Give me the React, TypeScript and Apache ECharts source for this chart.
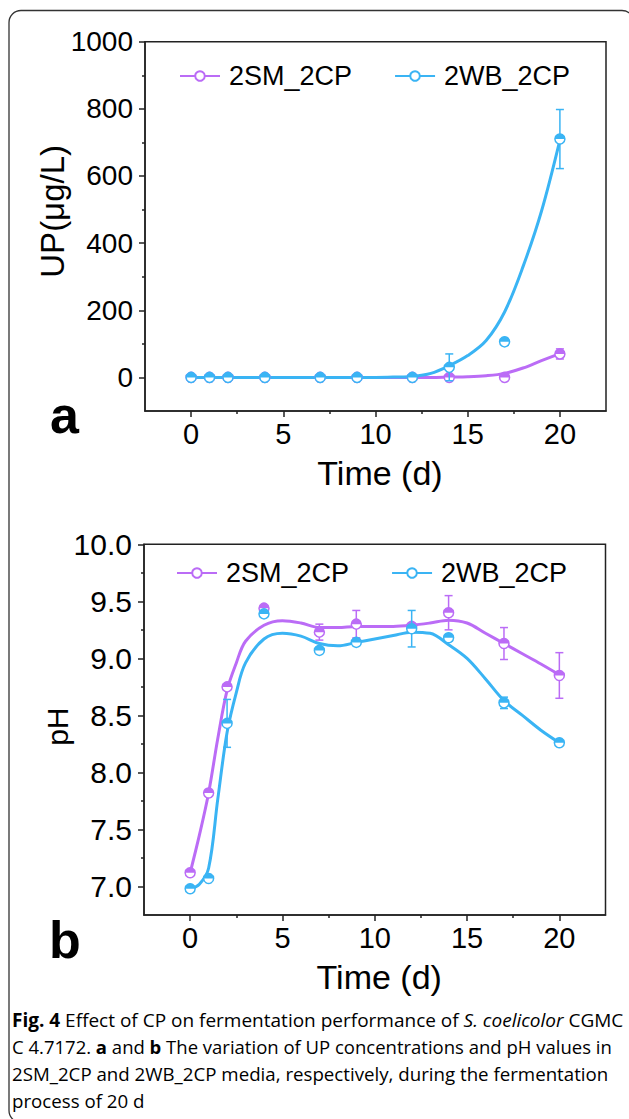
import React, { useEffect, useRef } from "react";
import * as echarts from "echarts";

// ---------- data ----------
const seriesNames = ["2SM_2CP", "2WB_2CP"];
const timeDays = [0, 1, 2, 4, 7, 9, 12, 14, 17, 20];

const upSM = [0, 0, 0, 0, 0, 0, 0, 0, 0, 70];
const upSMErr = [2, 2, 2, 2, 2, 2, 2, 3, 3, 15];
const upWB = [0, 0, 0, 0, 0, 0, 0, 30, 106, 710];
const upWBErr = [2, 2, 2, 2, 2, 2, 2, 40, 8, 88];

const phSM = [7.12, 7.82, 8.75, 9.44, 9.23, 9.3, 9.28, 9.4, 9.13, 8.85];
const phSMErr = [0.02, 0.03, 0.02, 0.02, 0.07, 0.12, 0.03, 0.15, 0.14, 0.2];
const phWB = [6.98, 7.07, 8.43, 9.39, 9.07, 9.14, 9.26, 9.18, 8.61, 8.26];
const phWBErr = [0.02, 0.02, 0.21, 0.03, 0.03, 0.03, 0.16, 0.03, 0.05, 0.02];

// fitted (spline) curves
const upFitT = [0, 2, 4, 6, 8, 10, 11, 12, 13, 14, 15, 16, 17, 18, 19, 20];
const upSMFit = [0, 0, 0, 0, 0, 0, 0, 0, 0, 1, 2, 5, 12, 28, 50, 71];
const upWBFit = [0, 0, 0, 0, 0, 0, 1, 3, 12, 35, 65, 110, 195, 330, 495, 707];

const phFitT = [0, 0.5, 1, 1.5, 2, 2.5, 3, 4, 5, 6, 7, 8, 9, 10, 11, 12, 13, 14, 15, 16, 17, 18, 19, 20];
const phSMFit = [7.12, 7.45, 7.82, 8.3, 8.72, 8.96, 9.15, 9.29, 9.33, 9.31, 9.27, 9.27, 9.28, 9.28, 9.28, 9.29, 9.31, 9.335, 9.31, 9.22, 9.13, 9.04, 8.95, 8.855];
const phWBFit = [6.98, 7.02, 7.16, 7.77, 8.35, 8.7, 8.96, 9.17, 9.22, 9.195, 9.13, 9.11, 9.14, 9.17, 9.2, 9.23, 9.22, 9.12, 9.0, 8.82, 8.63, 8.5, 8.37, 8.26];

// axis ticks
const xMajor = [0, 5, 10, 15, 20];
const xMinor = [2.5, 7.5, 12.5, 17.5];
const upMajor = [0, 200, 400, 600, 800, 1000];
const upMinor = [100, 300, 500, 700, 900];
const phMajor = [7.0, 7.5, 8.0, 8.5, 9.0, 9.5, 10.0];
const phMinor = [7.25, 7.75, 8.25, 8.75, 9.25, 9.75];

const captionLines = [
  [["b", "Fig. 4"], ["n", " Effect of CP on fermentation performance of "], ["i", "S. coelicolor"], ["n", " CGMC"]],
  [["n", "C 4.7172. "], ["b", "a"], ["n", " and "], ["b", "b"], ["n", " The variation of UP concentrations and pH values in"]],
  [["n", "2SM_2CP and 2WB_2CP media, respectively, during the fermentation"]],
  [["n", "process of 20 d"]],
];

const PURPLE = "#BB6CF6";
const BLUE = "#3AB4F4";
const FONT = "Liberation Sans, Arial, sans-serif";

const zip3 = (t: number[], v: number[], e: number[]) => t.map((x, i) => [x, v[i], e[i]]);
const zip2 = (t: number[], v: number[]) => t.map((x, i) => [x, v[i]]);

const makeRender = (color: string) => (params: any, api: any) => {
  const x = api.value(0);
  const y = api.value(1);
  const e = api.value(2);
  const p = api.coord([x, y]);
  const hi = api.coord([x, y + e]);
  const lo = api.coord([x, y - e]);
  const r = 5;
  const cap = 4;
  const bar = { stroke: color, lineWidth: 1.5 };
  return {
    type: "group",
    children: [
      { type: "line", shape: { x1: p[0], y1: hi[1], x2: p[0], y2: lo[1] }, style: bar },
      { type: "line", shape: { x1: p[0] - cap, y1: hi[1], x2: p[0] + cap, y2: hi[1] }, style: bar },
      { type: "line", shape: { x1: p[0] - cap, y1: lo[1], x2: p[0] + cap, y2: lo[1] }, style: bar },
      { type: "circle", shape: { cx: p[0], cy: p[1], r }, style: { fill: "#fff", stroke: color, lineWidth: 1.5 } },
      {
        type: "sector",
        shape: { cx: p[0], cy: p[1], r0: 0, r, startAngle: Math.PI, endAngle: 2 * Math.PI, clockwise: true },
        style: { fill: color },
      },
    ],
  };
};

function xAxes(gridIndex: number, nameGap: number) {
  return [
    {
      type: "value",
      gridIndex,
      min: -2.5,
      max: 22.5,
      position: "bottom",
      name: "Time (d)",
      nameLocation: "middle",
      nameGap,
      nameMoveOverlap: false,
      nameTextStyle: { fontSize: 34, color: "#000", fontFamily: FONT, padding: [0, 0, 0, 9] },
      axisLine: { show: true, onZero: false, lineStyle: { color: "#222", width: 1.5 } },
      axisTick: { show: true, customValues: xMajor, length: 6, lineStyle: { color: "#222", width: 1.5 } },
      axisLabel: { show: true, customValues: xMajor, margin: 8, fontSize: 29, color: "#000", fontFamily: FONT },
      splitLine: { show: false },
    },
    {
      type: "value",
      gridIndex,
      min: -2.5,
      max: 22.5,
      position: "bottom",
      axisLine: { show: false, onZero: false },
      axisTick: { show: true, customValues: xMinor, length: 3, lineStyle: { color: "#222", width: 1.5 } },
      axisLabel: { show: false },
      splitLine: { show: false },
    },
  ];
}

function yAxes(
  gridIndex: number,
  min: number,
  max: number,
  major: number[],
  minor: number[],
  name: string,
  nameSize: number,
  nameGap: number,
  namePad: number[],
  labelSize: number,
  fmt: (v: number) => string
) {
  return [
    {
      type: "value",
      gridIndex,
      min,
      max,
      position: "left",
      name,
      nameLocation: "middle",
      nameGap,
      nameMoveOverlap: false,
      nameTextStyle: { fontSize: nameSize, color: "#000", fontFamily: FONT, padding: namePad },
      axisLine: { show: true, onZero: false, lineStyle: { color: "#222", width: 1.5 } },
      axisTick: { show: true, customValues: major, length: 6, lineStyle: { color: "#222", width: 1.5 } },
      axisLabel: { show: true, customValues: major, margin: 12, fontSize: labelSize, color: "#000", fontFamily: FONT, formatter: fmt },
      splitLine: { show: false },
    },
    {
      type: "value",
      gridIndex,
      min,
      max,
      position: "left",
      axisLine: { show: false, onZero: false },
      axisTick: { show: true, customValues: minor, length: 3, lineStyle: { color: "#222", width: 1.5 } },
      axisLabel: { show: false },
      splitLine: { show: false },
    },
  ];
}

function curve(name: string, color: string, data: number[][], xi: number, yi: number) {
  return {
    type: "line",
    name,
    xAxisIndex: xi,
    yAxisIndex: yi,
    data,
    smooth: 0.35,
    showSymbol: false,
    symbol: "circle",
    symbolSize: 10,
    itemStyle: { color: "#fff", borderColor: color, borderWidth: 1.5 },
    lineStyle: { color, width: 3 },
    z: 2,
  };
}

function points(name: string, color: string, data: number[][], xi: number, yi: number) {
  return {
    type: "custom",
    name: name + "_pts",
    xAxisIndex: xi,
    yAxisIndex: yi,
    data,
    encode: { x: 0, y: 1 },
    renderItem: makeRender(color),
    z: 3,
  };
}

function legend(left: number, top: number) {
  return {
    left,
    top,
    orient: "horizontal",
    padding: 0,
    itemWidth: 40,
    itemHeight: 12,
    itemGap: 42,
    data: seriesNames,
    textStyle: { fontSize: 27, color: "#000", fontFamily: FONT, lineHeight: 30, padding: [0, 0, 0, 4] },
  };
}

function captionGraphic() {
  const sizes = [19, 18.5, 18.7, 18.7];
  const ys = [1023, 1050, 1077, 1104];
  return captionLines.map((parts, k) => {
    const base = { fontFamily: "Open Sans, sans-serif", fontSize: sizes[k], color: "#333" };
    const rich = {
      n: { ...base },
      b: { ...base, fontWeight: "bold" },
      i: { ...base, fontStyle: "italic" },
    };
    return {
      type: "text",
      left: 12,
      top: ys[k] - 13,
      style: {
        text: parts.map(([s, t]) => `{${s}|${t}}`).join(""),
        rich,
        verticalAlign: "top",
      },
    };
  });
}

export default function App() {
  const ref = useRef<HTMLDivElement>(null);
  useEffect(() => {
    if (!ref.current) return;
    const chart = echarts.init(ref.current, undefined, { renderer: "svg" });
    const option: any = {
      animation: false,
      backgroundColor: "#fff",
      textStyle: { fontFamily: FONT },
      grid: [
        { left: 145, top: 41.7, width: 461, height: 369.3, show: true, borderColor: "#222", borderWidth: 1.5, outerBoundsMode: "none", containLabel: false },
        { left: 144, top: 544.3, width: 461.5, height: 370.7, show: true, borderColor: "#222", borderWidth: 1.5, outerBoundsMode: "none", containLabel: false },
      ],
      xAxis: [...xAxes(0, 45), ...xAxes(1, 45)],
      yAxis: [
        ...yAxes(0, -100, 1000, upMajor, upMinor, "UP(μg/L)", 33, 76, [0, 0, 0, 30], 28, (v: number) => String(v)),
        ...yAxes(1, 6.75, 10, phMajor, phMinor, "pH", 30, 72, [0, 0, 0, 6], 30, (v: number) => v.toFixed(1)),
      ],
      legend: [legend(179, 61), legend(176, 558)],
      series: [
        curve(seriesNames[0], PURPLE, zip2(upFitT, upSMFit), 0, 0),
        curve(seriesNames[1], BLUE, zip2(upFitT, upWBFit), 0, 0),
        points(seriesNames[0], PURPLE, zip3(timeDays, upSM, upSMErr), 0, 0),
        points(seriesNames[1], BLUE, zip3(timeDays, upWB, upWBErr), 0, 0),
        curve(seriesNames[0], PURPLE, zip2(phFitT, phSMFit), 2, 2),
        curve(seriesNames[1], BLUE, zip2(phFitT, phWBFit), 2, 2),
        points(seriesNames[0], PURPLE, zip3(timeDays, phSM, phSMErr), 2, 2),
        points(seriesNames[1], BLUE, zip3(timeDays, phWB, phWBErr), 2, 2),
      ],
      graphic: [
        {
          type: "rect",
          shape: { x: 9, y: 10.5, width: 625, height: 1112, r: 12 },
          style: { fill: "none", stroke: "#333", lineWidth: 1.3 },
          silent: true,
        },
        { type: "text", x: 50, y: 415, style: { text: "a", fontSize: 52, fontWeight: "bold", fontFamily: FONT, fill: "#000", verticalAlign: "middle" } },
        { type: "text", x: 49, y: 940, style: { text: "b", fontSize: 52, fontWeight: "bold", fontFamily: FONT, fill: "#000", verticalAlign: "middle" } },
        ...captionGraphic(),
      ],
    };
    chart.setOption(option);
    return () => chart.dispose();
  }, []);
  return <div ref={ref} style={{ position: "absolute", left: 0, top: 0, width: 629, height: 1119 }} />;
}
